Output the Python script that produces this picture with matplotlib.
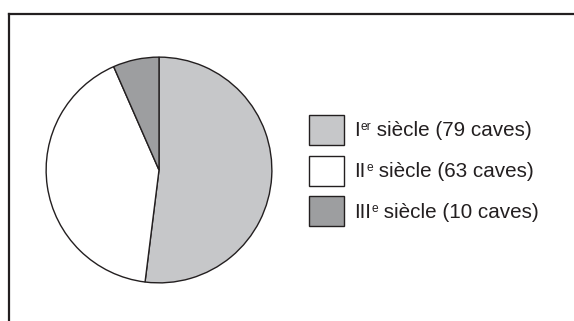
import matplotlib
matplotlib.use("Agg")
import matplotlib.pyplot as plt
from matplotlib.patches import Rectangle
from matplotlib.lines import Line2D

# Data
numerals = ["I", "II", "III"]
suffixes = ["er", "e", "e"]
caves = [79, 63, 10]
colors = ["#c6c7c9", "#ffffff", "#9d9ea0"]
edge = "#231f20"

plt.rcParams['font.family'] = ['Liberation Sans', 'DejaVu Sans']

W, H = 574, 321
fig = plt.figure(figsize=(W / 100, H / 100), dpi=100)
fig.patch.set_facecolor("white")

# frame: only top and left edges are visible
fig.add_artist(Line2D([8.5 / W, 8.5 / W], [0, 1 - 14 / H], transform=fig.transFigure,
                      color=edge, lw=1.6, solid_capstyle="projecting"))
fig.add_artist(Line2D([8.5 / W, 1], [1 - 14 / H, 1 - 14 / H], transform=fig.transFigure,
                      color=edge, lw=1.6, solid_capstyle="projecting"))

# pie
cx, cy, r = 159, 170, 114
ax = fig.add_axes([(cx - r) / W, 1 - (cy + r) / H, 2 * r / W, 2 * r / H])
ax.pie(caves, colors=colors, startangle=90, counterclock=False,
       wedgeprops=dict(edgecolor=edge, linewidth=1.0))
ax.set_xlim(-1.01, 1.01)
ax.set_ylim(-1.01, 1.01)
ax.set_aspect("equal")
ax.axis("off")

# legend, drawn by hand because of the superscripts
fig.canvas.draw()
renderer = fig.canvas.get_renderer()
fs = 14.9
row_y = [129.5, 170.5, 211]
for i, (num, suf, n) in enumerate(zip(numerals, suffixes, caves)):
    y = row_y[i]
    fig.add_artist(Rectangle((308.5 / W, 1 - (y + 15) / H), 35 / W, 30 / H,
                             transform=fig.transFigure, facecolor=colors[i],
                             edgecolor=edge, lw=1.0))
    x = 354
    base = 1 - (y + 6.5) / H
    t = fig.text(x / W, base, num, fontsize=fs, color=edge, va="baseline")
    x = t.get_window_extent(renderer).x1 + 0.8
    t = fig.text(x / W, base + 6 / H, suf, fontsize=fs * 0.58, color=edge, va="baseline")
    x = t.get_window_extent(renderer).x1
    fig.text(x / W, base, " siècle (%d caves)" % n, fontsize=fs, color=edge, va="baseline")

fig.savefig("out.png", dpi=100)
